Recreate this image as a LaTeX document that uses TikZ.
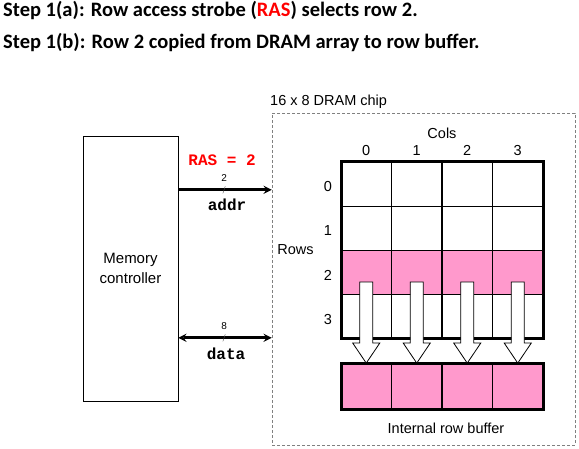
\documentclass[tikz,border=0pt]{standalone}
\usepackage{fontspec}
\setmainfont{Liberation Sans}
\setmonofont{Liberation Mono}
\newfontfamily\stepfont{Carlito}
\usetikzlibrary{positioning}
\definecolor{rowpink}{RGB}{255,153,204}
\definecolor{rasred}{RGB}{255,0,0}

\begin{document}
\begin{tikzpicture}[x=1pt,y=-1pt,>=stealth,
  cell/.style={rectangle,draw,inner sep=0pt,outer sep=0pt,minimum width=50.5pt,minimum height=44.25pt,line width=1.2pt},
  pinkcell/.style={cell,fill=rowpink},
  bus/.style={line width=2.6pt},
  lbl/.style={font=\fontsize{14.5}{20}\selectfont,inner sep=0pt},
  code/.style={font=\fontsize{16}{18}\selectfont\ttfamily\bfseries,inner sep=0pt},
  width/.style={font=\fontsize{10}{12}\selectfont,inner sep=0pt},
  steptext/.style={font=\stepfont\fontsize{20.5}{24}\selectfont\bfseries,inner sep=0pt,anchor=base west},
  blockarrow/.style={draw,fill=white,line width=0.8pt,line join=miter}]

\useasboundingbox (0,0) rectangle (579,449);

\node[steptext] (stepa) at (3,17) {Step 1(a): Row access strobe ({\color{rasred}RAS}) selects row 2.};
\node[steptext] (stepb) at (3,48.5) {Step 1(b): Row 2 copied from DRAM array to row buffer.};

\node[draw,thin,minimum width=95pt,minimum height=265pt,inner sep=0pt,align=center,font=\fontsize{15}{20}\selectfont] (ctrl) at (130.5,268.5) {Memory\\controller};

\node[draw=gray,dash pattern=on 3pt off 2pt,minimum width=303pt,minimum height=332pt,inner sep=0pt] (chip) at (423.5,279) {};
\node[lbl,anchor=base west] (chiplbl) at (270,106) {16 x 8 DRAM chip};

% DRAM array
\foreach \r in {0,1,3}
  \foreach \c in {0,...,3}
    \node[cell] (r\r c\c) at ({366.25+50.5*\c},{184.1+44.25*\r}) {};
\foreach \c in {0,...,3}
  \node[pinkcell] (r2c\c) at ({366.25+50.5*\c},{184.1+44.25*2}) {};
\draw[line width=3pt] (r0c0.north west) rectangle (r3c3.south east);

\foreach \r in {0,...,3}
  \node[lbl] (rl\r) at (328,{186.6+44.25*\r}) {\r};
\foreach \c in {0,...,3}
  \node[lbl,above=6pt of r0c\c] (cl\c) {\c};
\node[lbl,anchor=base] (cols) at (442,139) {Cols};
\node[lbl,anchor=base] (rows) at (295.5,255) {Rows};

% row buffer
\foreach \c in {0,...,3}
  \node[pinkcell,minimum height=45pt] (buf\c) at ({366.25+50.5*\c},386.5) {};
\draw[line width=3pt] (buf0.north west) rectangle (buf3.south east);
\node[lbl,anchor=base] (buflbl) at (446,433) {Internal row buffer};

\foreach \c in {0,...,3}
  \draw[blockarrow] ([shift={(-6.5pt,-9.5pt)}]r2c\c.center) -- ++(13pt,0) -- ++(0,-61pt) -- ++(7pt,0)
    -- ++(-13.5pt,-20pt) -- ++(-13.5pt,20pt) -- ++(7pt,0) -- cycle;

% address and data bus
\draw[bus,->] ([yshift=-54pt]ctrl.north east) -- coordinate[pos=.49] (addrmark) ([yshift=-77pt]chip.north west);
\draw[thin,gray!60!black] ([shift={(-1.2pt,-3.5pt)}]addrmark) -- ([shift={(1.2pt,3.5pt)}]addrmark);
\node[width,above=8pt of addrmark] (addrw) {2};
\node[code,below=9pt of addrmark,xshift=3pt] (addr) {addr};
\node[code,text=rasred,above=24pt of addrmark,xshift=-2pt] (ras) {RAS = 2};

\draw[bus,<->] ([yshift=-202pt]ctrl.north east) -- coordinate[pos=.49] (datamark) ([yshift=-225pt]chip.north west);
\draw[thin,gray!60!black] ([shift={(-1.2pt,-3.5pt)}]datamark) -- ([shift={(1.2pt,3.5pt)}]datamark);
\node[width,above=8.5pt of datamark] (dataw) {8};
\node[code,below=10pt of datamark,xshift=2pt] (data) {data};

\end{tikzpicture}
\end{document}
